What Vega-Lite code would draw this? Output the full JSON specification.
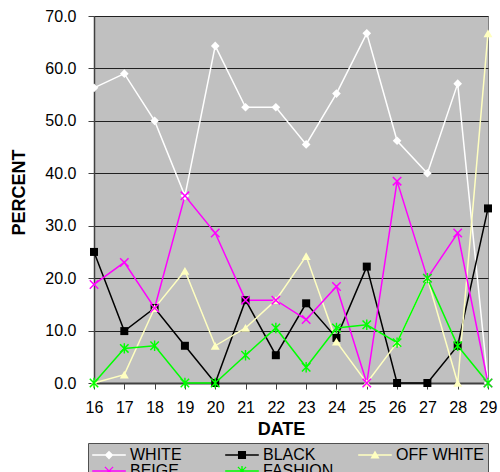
{
  "$schema": "https://vega.github.io/schema/vega-lite/v6.json",
  "width": 394,
  "height": 367,
  "autosize": {"type": "none"},
  "padding": {"left": 94, "top": 16, "right": 12, "bottom": 89},
  "background": "white",
  "config": {
    "view": {"fill": "#c0c0c0", "stroke": "#808080", "strokeWidth": 1},
    "font": "Liberation Sans"
  },
  "data": {
    "values": [
      {"date": 16, "series": "WHITE", "value": 56.3},
      {"date": 17, "series": "WHITE", "value": 59.0},
      {"date": 18, "series": "WHITE", "value": 50.0},
      {"date": 19, "series": "WHITE", "value": 35.7},
      {"date": 20, "series": "WHITE", "value": 64.3},
      {"date": 21, "series": "WHITE", "value": 52.6},
      {"date": 22, "series": "WHITE", "value": 52.6},
      {"date": 23, "series": "WHITE", "value": 45.5},
      {"date": 24, "series": "WHITE", "value": 55.2},
      {"date": 25, "series": "WHITE", "value": 66.7},
      {"date": 26, "series": "WHITE", "value": 46.2},
      {"date": 27, "series": "WHITE", "value": 40.0},
      {"date": 28, "series": "WHITE", "value": 57.1},
      {"date": 29, "series": "WHITE", "value": 0.0},
      {"date": 16, "series": "BLACK", "value": 25.0},
      {"date": 17, "series": "BLACK", "value": 9.9},
      {"date": 18, "series": "BLACK", "value": 14.3},
      {"date": 19, "series": "BLACK", "value": 7.1},
      {"date": 20, "series": "BLACK", "value": 0.0},
      {"date": 21, "series": "BLACK", "value": 15.8},
      {"date": 22, "series": "BLACK", "value": 5.3},
      {"date": 23, "series": "BLACK", "value": 15.2},
      {"date": 24, "series": "BLACK", "value": 8.6},
      {"date": 25, "series": "BLACK", "value": 22.2},
      {"date": 26, "series": "BLACK", "value": 0.0},
      {"date": 27, "series": "BLACK", "value": 0.0},
      {"date": 28, "series": "BLACK", "value": 7.1},
      {"date": 29, "series": "BLACK", "value": 33.3},
      {"date": 16, "series": "OFF WHITE", "value": 0.0},
      {"date": 17, "series": "OFF WHITE", "value": 1.6},
      {"date": 18, "series": "OFF WHITE", "value": 14.3},
      {"date": 19, "series": "OFF WHITE", "value": 21.4},
      {"date": 20, "series": "OFF WHITE", "value": 7.1},
      {"date": 21, "series": "OFF WHITE", "value": 10.5},
      {"date": 22, "series": "OFF WHITE", "value": 15.8},
      {"date": 23, "series": "OFF WHITE", "value": 24.2},
      {"date": 24, "series": "OFF WHITE", "value": 7.9},
      {"date": 25, "series": "OFF WHITE", "value": 0.0},
      {"date": 26, "series": "OFF WHITE", "value": 7.7},
      {"date": 27, "series": "OFF WHITE", "value": 20.0},
      {"date": 28, "series": "OFF WHITE", "value": 0.0},
      {"date": 29, "series": "OFF WHITE", "value": 66.7},
      {"date": 16, "series": "BEIGE", "value": 18.8},
      {"date": 17, "series": "BEIGE", "value": 23.0},
      {"date": 18, "series": "BEIGE", "value": 14.3},
      {"date": 19, "series": "BEIGE", "value": 35.7},
      {"date": 20, "series": "BEIGE", "value": 28.6},
      {"date": 21, "series": "BEIGE", "value": 15.8},
      {"date": 22, "series": "BEIGE", "value": 15.8},
      {"date": 23, "series": "BEIGE", "value": 12.1},
      {"date": 24, "series": "BEIGE", "value": 18.4},
      {"date": 25, "series": "BEIGE", "value": 0.0},
      {"date": 26, "series": "BEIGE", "value": 38.5},
      {"date": 27, "series": "BEIGE", "value": 20.0},
      {"date": 28, "series": "BEIGE", "value": 28.6},
      {"date": 29, "series": "BEIGE", "value": 0.0},
      {"date": 16, "series": "FASHION", "value": 0.0},
      {"date": 17, "series": "FASHION", "value": 6.6},
      {"date": 18, "series": "FASHION", "value": 7.1},
      {"date": 19, "series": "FASHION", "value": 0.0},
      {"date": 20, "series": "FASHION", "value": 0.0},
      {"date": 21, "series": "FASHION", "value": 5.3},
      {"date": 22, "series": "FASHION", "value": 10.5},
      {"date": 23, "series": "FASHION", "value": 3.0},
      {"date": 24, "series": "FASHION", "value": 10.5},
      {"date": 25, "series": "FASHION", "value": 11.1},
      {"date": 26, "series": "FASHION", "value": 7.7},
      {"date": 27, "series": "FASHION", "value": 20.0},
      {"date": 28, "series": "FASHION", "value": 7.1},
      {"date": 29, "series": "FASHION", "value": 0.0}
    ]
  },
  "encoding": {
    "x": {
      "field": "date",
      "type": "quantitative",
      "scale": {"domain": [16, 29], "nice": false, "zero": false},
      "axis": {
        "values": [16, 17, 18, 19, 20, 21, 22, 23, 24, 25, 26, 27, 28, 29],
        "format": "d",
        "grid": false,
        "title": "DATE",
        "domainColor": "#404040",
        "domainWidth": 2,
        "tickColor": "#404040",
        "tickSize": 6,
        "labelFont": "Liberation Sans",
        "labelFontSize": 16,
        "labelColor": "#000000",
        "labelPadding": 10,
        "labelFlush": false,
        "titleFont": "Liberation Sans",
        "titleFontSize": 18,
        "titleFontWeight": "bold",
        "titleColor": "#000000",
        "titleX": 187,
        "titleY": 51,
        "titleAlign": "center",
        "titleBaseline": "alphabetic"
      }
    },
    "y": {
      "field": "value",
      "type": "quantitative",
      "scale": {"domain": [0, 70], "nice": false},
      "axis": {
        "values": [0, 10, 20, 30, 40, 50, 60, 70],
        "format": ".1f",
        "title": "PERCENT",
        "domainColor": "#404040",
        "domainWidth": 1.5,
        "gridColor": "#202020",
        "gridWidth": 1,
        "tickColor": "#404040",
        "tickSize": 6,
        "labelFont": "Liberation Sans",
        "labelFontSize": 16,
        "labelColor": "#000000",
        "labelPadding": 12,
        "labelFlush": false,
        "titleFont": "Liberation Sans",
        "titleFontSize": 18,
        "titleFontWeight": "bold",
        "titleColor": "#000000",
        "titleAngle": 270,
        "titleX": -75,
        "titleY": 176,
        "titleAlign": "center",
        "titleBaseline": "middle"
      }
    }
  },
  "layer": [
    {
      "mark": {"type": "point", "filled": true, "opacity": 1, "size": 0},
      "encoding": {
        "color": {
          "field": "series",
          "type": "nominal",
          "scale": {
            "domain": ["WHITE", "BLACK", "OFF WHITE", "BEIGE", "FASHION"],
            "range": ["#ffffff", "#000000", "#ffffc0", "#ff00ff", "#00ff00"]
          },
          "legend": {
            "orient": "none", "legendX": -6, "legendY": 427, "direction": "horizontal",
            "columns": 3, "gridAlign": "all", "title": null,
            "fillColor": "#c0c0c0", "strokeColor": "#505050",
            "padding": 4, "rowPadding": 0, "columnPadding": 7,
            "labelFont": "Liberation Sans", "labelFontSize": 16, "labelColor": "#000000",
            "symbolSize": 49, "symbolOffset": 9, "labelOffset": 13, "symbolStrokeWidth": 0
          }
        },
        "shape": {
          "field": "series",
          "type": "nominal",
          "scale": {
            "domain": ["WHITE", "BLACK", "OFF WHITE", "BEIGE", "FASHION"],
            "range": [
              "M-4.8,-0.2H4.8V0.2H-4.8Z M0,-1.25L1.25,0L0,1.25L-1.25,0Z",
              "M-4.8,-0.2H4.8V0.2H-4.8Z M-1.15,-1.15H1.15V1.15H-1.15Z",
              "M-4.8,-0.2H4.8V0.2H-4.8Z M0,-1.3L1.3,1H-1.3Z",
              "M-4.8,-0.2H4.8V0.2H-4.8Z M-1.3,-1.05L-1.05,-1.3L1.3,1.05L1.05,1.3Z M1.05,-1.3L1.3,-1.05L-1.05,1.3L-1.3,1.05Z",
              "M-4.8,-0.2H4.8V0.2H-4.8Z M-1.3,-1.05L-1.05,-1.3L1.3,1.05L1.05,1.3Z M1.05,-1.3L1.3,-1.05L-1.05,1.3L-1.3,1.05Z M-0.2,-1.4H0.2V1.4H-0.2Z"
            ]
          },
          "legend": {
            "orient": "none", "legendX": -6, "legendY": 427, "direction": "horizontal",
            "columns": 3, "gridAlign": "all", "title": null,
            "fillColor": "#c0c0c0", "strokeColor": "#505050",
            "padding": 4, "rowPadding": 0, "columnPadding": 7,
            "labelFont": "Liberation Sans", "labelFontSize": 16, "labelColor": "#000000",
            "symbolSize": 49, "symbolOffset": 9, "labelOffset": 13, "symbolStrokeWidth": 0
          }
        }
      }
    },
    {
      "mark": {"type": "line", "strokeWidth": 1.5},
      "encoding": {
        "color": {"field": "series", "type": "nominal", "legend": null}
      }
    },
    {
      "transform": [{"filter": "datum.series === 'WHITE'"}],
      "mark": {"type": "point", "filled": true, "opacity": 1, "shape": "diamond", "size": 75},
      "encoding": {"color": {"field": "series", "type": "nominal", "legend": null}}
    },
    {
      "transform": [{"filter": "datum.series === 'BLACK'"}],
      "mark": {"type": "point", "filled": true, "opacity": 1, "shape": "square", "size": 64},
      "encoding": {"color": {"field": "series", "type": "nominal", "legend": null}}
    },
    {
      "transform": [{"filter": "datum.series === 'OFF WHITE'"}],
      "mark": {"type": "point", "filled": true, "opacity": 1, "shape": "triangle-up", "size": 80},
      "encoding": {"color": {"field": "series", "type": "nominal", "legend": null}}
    },
    {
      "transform": [{"filter": "datum.series === 'BEIGE'"}],
      "mark": {"type": "point", "filled": true, "opacity": 1, "size": 90,
        "shape": "M-1,-0.78L-0.78,-1L1,0.78L0.78,1Z M0.78,-1L1,-0.78L-0.78,1L-1,0.78Z"},
      "encoding": {"color": {"field": "series", "type": "nominal", "legend": null}}
    },
    {
      "transform": [{"filter": "datum.series === 'FASHION'"}],
      "mark": {"type": "point", "filled": true, "opacity": 1, "size": 90,
        "shape": "M-1,-0.78L-0.78,-1L1,0.78L0.78,1Z M0.78,-1L1,-0.78L-0.78,1L-1,0.78Z M-0.15,-1.1H0.15V1.1H-0.15Z"},
      "encoding": {"color": {"field": "series", "type": "nominal", "legend": null}}
    }
  ]
}
